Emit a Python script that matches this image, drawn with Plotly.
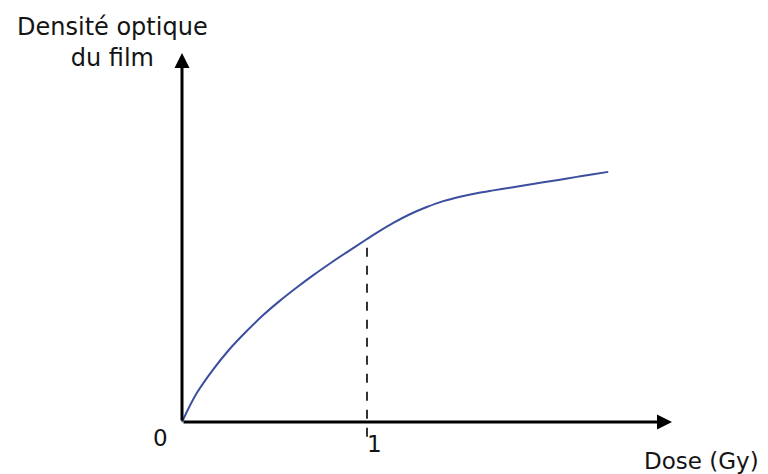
import plotly.graph_objects as go

# Data (dose in Gy, optical density in arbitrary units)
dose = [0.0, 0.079, 0.169, 0.259, 0.350, 0.439, 0.530, 0.620, 0.710, 0.800, 0.890,
        1.0, 1.052, 1.142, 1.232, 1.323, 1.412, 1.503, 1.593, 1.683, 1.773,
        1.863, 1.953, 2.043, 2.134, 2.223, 2.304]
density = [0.0, 0.155, 0.285, 0.396, 0.492, 0.578, 0.656, 0.727, 0.794, 0.857, 0.917,
           0.989, 1.022, 1.076, 1.123, 1.162, 1.194, 1.218, 1.237, 1.252, 1.266,
           1.281, 1.296, 1.310, 1.325, 1.339, 1.352]
marked_dose = 1.0
tick_labels = ["0", "1"]
x_title = "Dose (Gy)"
y_title = "Densité optique<br>du film"

W, H = 768, 474
OFF = 8  # page body margin
x0px, y0px, scale = 182 - OFF, 422 - OFF, 185.0
xr = [-x0px / scale, (W - x0px) / scale]
yr = [-(H - y0px) / scale, y0px / scale]

x_end = (672 - OFF - x0px) / scale
y_end = (y0px - (53 - OFF)) / scale


def px(x):
    return (x - OFF) / W


def py(y):
    return 1 - (y - OFF) / H


fig = go.Figure()
fig.add_trace(go.Scatter(
    x=dose, y=density, mode="lines",
    line=dict(color="#3b4f9e", width=2, shape="spline", smoothing=1.0),
    hoverinfo="skip", showlegend=False,
))

marked_y = density[dose.index(marked_dose)]
fig.add_shape(type="line", x0=marked_dose, x1=marked_dose, y0=-0.08, y1=marked_y,
              line=dict(color="black", width=1.6, dash="dash"))

font = dict(family="DejaVu Sans, sans-serif", size=23, color="#141414")
title_font = dict(family="DejaVu Sans, sans-serif", size=24, color="#141414")
ann = [
    dict(x=x_end, y=0, ax=0, ay=0, xref="x", yref="y", axref="x", ayref="y",
         showarrow=True, arrowhead=2, arrowsize=1.0, arrowwidth=3, arrowcolor="black", text=""),
    dict(x=0, y=y_end, ax=0, ay=0, xref="x", yref="y", axref="x", ayref="y",
         showarrow=True, arrowhead=2, arrowsize=1.0, arrowwidth=3, arrowcolor="black", text=""),
    dict(x=px(160), y=py(438), xref="paper", yref="paper", text=tick_labels[0],
         showarrow=False, font=font, xanchor="center", yanchor="middle"),
    dict(x=px(374), y=py(444), xref="paper", yref="paper", text=tick_labels[1],
         showarrow=False, font=font, xanchor="center", yanchor="middle"),
    dict(x=px(761), y=py(461), xref="paper", yref="paper", text=x_title,
         showarrow=False, font=font, xanchor="right", yanchor="middle"),
    dict(x=px(112), y=py(43), xref="paper", yref="paper", text=y_title,
         showarrow=False, font=title_font, xanchor="center", yanchor="middle", align="center"),
]
fig.update_layout(
    width=W, height=H, margin=dict(l=0, r=0, t=0, b=0),
    paper_bgcolor="white", plot_bgcolor="white",
    xaxis=dict(range=xr, visible=False, fixedrange=True),
    yaxis=dict(range=yr, visible=False, fixedrange=True),
    annotations=ann,
)
fig.write_html("out.html")
